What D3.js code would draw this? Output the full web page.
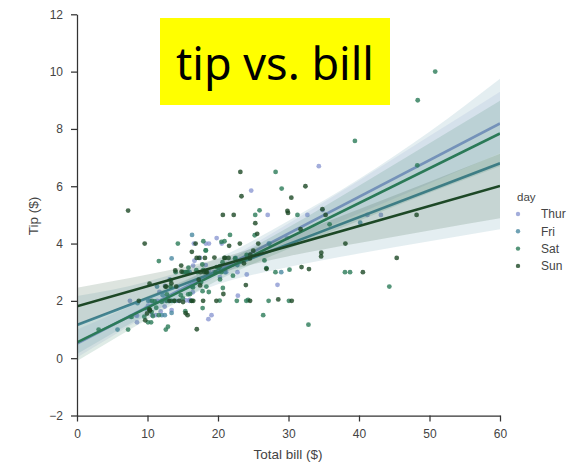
<!DOCTYPE html>
<html><head><meta charset="utf-8">
<script src="https://cdn.jsdelivr.net/npm/d3@7"></script>
<style>body{margin:0;background:#fff}svg{display:block}</style>
</head><body><svg id="c" width="583" height="463"></svg>
<script>
// ---------- data ----------
const days = ["Thur", "Fri", "Sat", "Sun"];
const dayColors = ["#8c99d2", "#4b8aa1", "#2b7a58", "#1d4826"];

const thurPoints = [[27.2,4.0],[22.76,3.0],[17.29,2.71],[19.44,3.0],[16.66,3.4],[10.07,1.83],[32.68,5.0],[15.98,2.03],[34.83,5.17],[13.03,2.0],[18.28,4.0],[24.71,5.85],[21.16,3.0],
[10.65,1.5],[12.43,1.8],[24.08,2.92],[11.69,2.31],[13.42,1.68],[14.26,2.5],[15.95,2.0],[12.48,2.52],[29.8,4.2],[8.52,1.48],[14.52,2.0],[11.38,2.0],[22.82,2.18],[19.08,1.5],[20.27,2.83],[11.17,1.5],[12.26,2.0],[18.26,3.25],[8.51,1.25],[10.33,2.0],[14.15,2.0],[16.0,2.0],[13.16,2.75],[17.47,3.5],[34.3,6.7],[41.19,5.0],[27.05,5.0],[16.43,2.3],[8.35,1.5],[18.64,1.36],[11.87,1.63],[9.78,1.73],[7.51,2.0],
[19.81,4.19],[28.44,2.56],[15.48,2.02],[16.58,4.0],[7.56,1.44],[10.34,2.0],[43.11,5.0],[13.0,2.0],[13.51,2.0],[18.71,4.0],[12.74,2.01],[13.0,2.0],[16.4,2.5],[20.53,4.0],[16.47,3.23],[18.78,3.0]];

const friPoints = [[28.97,3.0],[22.49,3.5],[5.75,1.0],[16.32,4.3],[22.75,3.25],[40.17,4.73],[27.28,4.0],[12.03,1.5],[21.01,3.0],[12.46,1.5],[11.35,2.5],[15.38,3.0],
[12.16,2.2],[13.42,3.48],[8.58,1.92],[15.98,3.0],[13.42,1.58],[16.27,2.5],[10.09,2.0]];

const satPoints = [[20.65,3.35],[17.92,4.08],[20.29,2.75],[15.77,2.23],[39.42,7.58],[19.82,3.18],[17.81,2.34],[13.37,2.0],[12.69,2.0],[21.7,4.3],[19.65,3.0],[9.55,1.45],[18.35,2.5],[15.06,3.0],[20.69,2.45],[17.78,3.27],[24.06,3.6],[16.31,2.0],[16.93,3.07],[18.69,2.31],[31.27,5.0],[16.04,2.24],
[38.01,3.0],[26.41,1.5],[11.24,1.76],[48.27,6.73],[20.29,3.21],[13.81,2.0],[11.02,1.98],[18.29,3.76],[17.59,2.64],[20.08,3.15],[16.45,2.47],[3.07,1.0],[20.23,2.01],[15.01,2.09],[12.02,1.97],[17.07,3.0],[26.86,3.14],[25.28,5.0],[14.73,2.2],[10.51,1.25],[17.92,3.08],
[44.3,2.5],[22.42,3.48],[20.92,4.08],[15.36,1.64],[20.49,4.06],[25.21,4.29],[18.24,3.76],[14.31,4.0],[14.0,3.0],[7.25,1.0],
[10.59,1.61],[10.63,2.0],[50.81,10.0],[15.81,3.16],
[26.59,3.41],[38.73,3.0],[24.27,2.03],[12.76,2.23],[30.06,2.0],[25.89,5.16],[48.33,9.0],[13.27,2.5],[28.17,6.5],[12.9,1.1],[28.15,3.0],[11.59,1.5],[7.74,1.44],[30.14,3.09],
[20.45,3.0],[13.28,2.72],[22.12,2.88],[24.01,2.0],[15.69,3.0],[11.61,3.39],[10.77,1.47],[15.53,3.0],[10.07,1.25],[12.6,1.0],[32.83,1.17],[35.83,4.67],[29.03,5.92],[27.18,2.0],[22.67,2.0],[17.82,1.75]];

const sunPoints = [[16.99,1.01],[10.34,1.66],[21.01,3.5],[23.68,3.31],[24.59,3.61],[25.29,4.71],[8.77,2.0],[26.88,3.12],[15.04,1.96],[14.78,3.23],[10.27,1.71],[35.26,5.0],[15.42,1.57],[18.43,3.0],[14.83,3.02],[21.58,3.92],[10.33,1.67],[16.29,3.71],[16.97,3.5],
[17.46,2.54],[13.94,3.06],[9.68,1.32],[30.4,5.6],[18.29,3.0],[22.23,5.0],[32.4,6.0],[28.55,2.05],[18.04,3.0],[12.54,2.5],[10.29,2.6],[34.81,5.2],[9.94,1.56],[25.56,4.34],[19.49,3.51],
[38.07,4.0],[23.95,2.55],[25.71,4.0],[17.31,3.5],[29.93,5.07],
[14.07,2.5],[13.13,2.0],[17.26,2.74],[24.55,2.0],[19.77,2.0],[29.85,5.14],[48.17,5.0],[25.0,3.75],[13.39,2.61],[16.49,2.0],[21.5,3.5],[12.66,2.5],[16.21,2.0],[13.81,2.0],[17.51,3.0],[24.52,3.48],[20.76,2.24],[31.71,4.5],
[7.25,5.15],[31.85,3.18],[16.82,4.0],[32.9,3.11],[17.89,2.0],[14.48,2.0],[9.6,4.0],[34.63,3.55],[34.65,3.68],[23.33,5.65],[45.35,3.5],[23.17,6.5],[40.55,3.0],[20.69,5.0],[20.9,3.5],[30.46,2.0],[18.15,3.5],[23.1,4.0],[15.69,1.5]];

// regression line end values at x = 0 and x = 60
const fitX = [0, 60];
const thurFit = [0.51, 8.19];
const friFit = [1.16, 6.80];
const satFit = [0.55, 7.84];
const sunFit = [1.81, 6.01];

// confidence band edges read at these x values
const ciX = [0, 10, 20, 30, 40, 50, 60];
const thurLo = [0.02, 1.50, 2.87, 4.00, 5.05, 6.10, 7.15];
const thurHi = [1.00, 2.08, 3.27, 4.70, 6.20, 7.75, 9.30];
const friLo  = [0.15, 1.52, 2.58, 3.18, 3.65, 4.08, 4.50];
const friHi  = [2.17, 2.68, 3.50, 4.80, 6.25, 7.90, 9.75];
const satLo  = [-0.10, 1.36, 2.72, 3.82, 4.80, 5.77, 6.70];
const satHi  = [1.18, 2.16, 3.24, 4.57, 6.02, 7.50, 8.98];
const sunLo  = [1.15, 2.10, 2.95, 3.56, 4.02, 4.46, 4.88];
const sunHi  = [2.46, 2.92, 3.47, 4.26, 5.20, 6.16, 7.13];

const xTicks = [0, 10, 20, 30, 40, 50, 60];
const yTicks = [-2, 0, 2, 4, 6, 8, 10, 12];
const titleText = "tip vs. bill";
const xLabel = "Total bill ($)";
const yLabel = "Tip ($)";
const legendTitle = "day";

const seriesPoints = [thurPoints, friPoints, satPoints, sunPoints];
const seriesFit = [thurFit, friFit, satFit, sunFit];
const seriesLo = [thurLo, friLo, satLo, sunLo];
const seriesHi = [thurHi, friHi, satHi, sunHi];

// ---------- drawing ----------
const svg = d3.select("#c");
const x = d3.scaleLinear().domain([0, 60]).range([77, 500]);
const y = d3.scaleLinear().domain([-2, 12]).range([415.5, 14.3]);
const color = d3.scaleOrdinal().domain(days).range(dayColors);

const plot = svg.append("g");
const clip = svg.append("clipPath").attr("id", "pc").append("rect")
  .attr("x", 77).attr("y", 14.3).attr("width", 423).attr("height", 401.2);
plot.attr("clip-path", "url(#pc)");

days.forEach((d, i) => {
  const c = color(d);
  plot.append("g").selectAll("circle").data(seriesPoints[i]).join("circle")
    .attr("cx", p => x(p[0])).attr("cy", p => y(p[1])).attr("r", 2.4)
    .attr("fill", c).attr("fill-opacity", 0.8);
  const band = ciX.map((xv, k) => ({x: xv, lo: seriesLo[i][k], hi: seriesHi[i][k]}));
  plot.append("path").datum(band)
    .attr("d", d3.area().x(b => x(b.x)).y0(b => y(b.lo)).y1(b => y(b.hi)).curve(d3.curveMonotoneX))
    .attr("fill", c).attr("fill-opacity", 0.15);
  const fit = fitX.map((xv, k) => [xv, seriesFit[i][k]]);
  plot.append("path").datum(fit)
    .attr("d", d3.line().x(p => x(p[0])).y(p => y(p[1])))
    .attr("stroke", c).attr("stroke-width", 2.6).attr("fill", "none");
});

const fontAx = "'Liberation Sans', Arial, sans-serif";
const xAxis = svg.append("g").attr("transform", "translate(0,415.5)")
  .call(d3.axisBottom(x).tickValues(xTicks).tickSize(6).tickPadding(8).tickSizeOuter(0).tickFormat(d3.format("d")));
const yAxis = svg.append("g").attr("transform", "translate(77,0)")
  .call(d3.axisLeft(y).tickValues(yTicks).tickSize(6).tickPadding(8).tickSizeOuter(0).tickFormat(v => v < 0 ? "\u2212" + Math.abs(v) : String(v)));
[xAxis, yAxis].forEach(a => {
  a.select(".domain").attr("stroke", "#333").attr("stroke-width", 1.25);
  a.selectAll(".tick line").attr("stroke", "#333").attr("stroke-width", 1.25);
  a.selectAll(".tick text").attr("fill", "#444").style("font-family", fontAx).style("font-size", "12px");
});

svg.append("text").attr("x", 288).attr("y", 459).attr("text-anchor", "middle")
  .style("font-family", fontAx).style("font-size", "13.5px").attr("fill", "#444").text(xLabel);
svg.append("text").attr("transform", "translate(38,216) rotate(-90)").attr("text-anchor", "middle")
  .style("font-family", fontAx).style("font-size", "13.5px").attr("fill", "#444").text(yLabel);

// legend
const lg = svg.append("g");
lg.append("text").attr("x", 517).attr("y", 201).style("font-family", fontAx).style("font-size", "11.5px")
  .attr("fill", "#444").text(legendTitle);
days.forEach((d, i) => {
  const yy = 214 + i * 17.3;
  lg.append("circle").attr("cx", 518).attr("cy", yy).attr("r", 2.2).attr("fill", color(d)).attr("fill-opacity", 0.8);
  lg.append("text").attr("x", 541).attr("y", yy + 4.3).style("font-family", fontAx).style("font-size", "12px")
    .attr("fill", "#444").text(d);
});

// title box
svg.append("rect").attr("x", 160).attr("y", 18).attr("width", 230).attr("height", 87).attr("fill", "#ffff00");
svg.append("text").attr("x", 275).attr("y", 80).attr("text-anchor", "middle")
  .style("font-family", "'Noto Sans', 'Open Sans', sans-serif").style("font-size", "45px")
  .attr("fill", "#000").text(titleText);
</script></body></html>
